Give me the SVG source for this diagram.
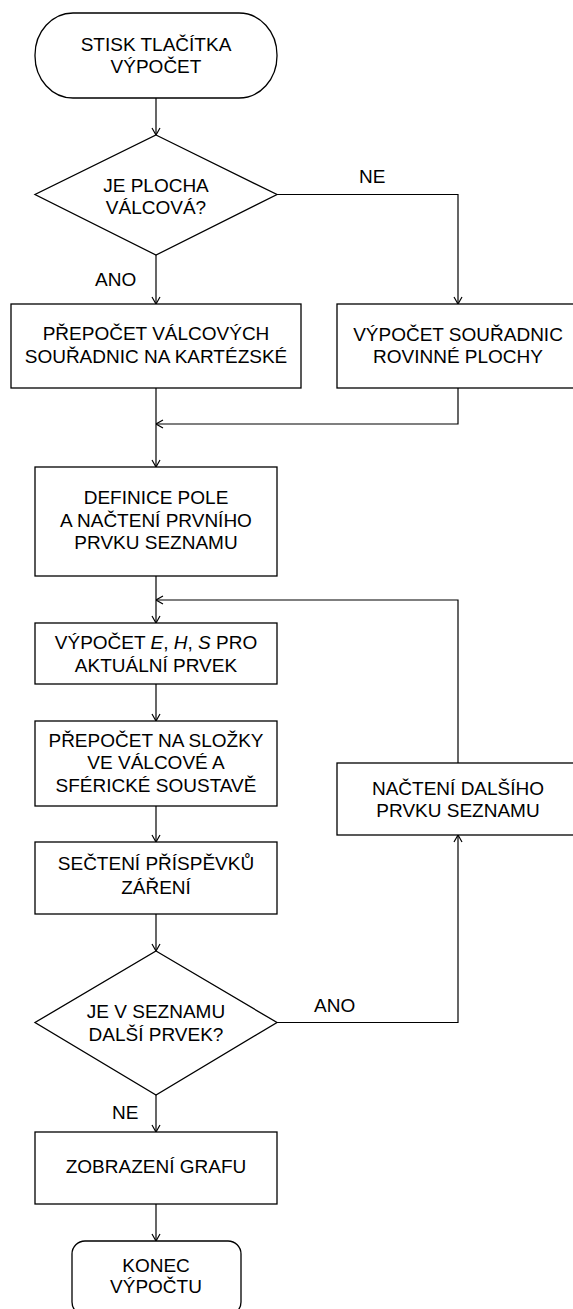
<svg xmlns="http://www.w3.org/2000/svg" width="573" height="1309" viewBox="0 0 573 1309">
<style>
.s{fill:#fff;stroke:#000;stroke-width:1.3}
.c{fill:none;stroke:#000;stroke-width:1.2}
text{font-family:"Liberation Sans",Arial,sans-serif;font-size:19px;fill:#000}
.m{text-anchor:middle}
</style>
<defs>
<marker id="a" viewBox="0 0 10 10" refX="10" refY="5" markerWidth="10" markerHeight="10" markerUnits="userSpaceOnUse" orient="auto">
<path d="M3,1 L10,5 L3,9" fill="none" stroke="#000" stroke-width="1.2"/>
</marker>
</defs>
<g id="connectors">
<path class="c" d="M156,98 V135" marker-end="url(#a)"/>
<path class="c" d="M156,255 V304" marker-end="url(#a)"/>
<path class="c" d="M277,194.5 H458 V304" marker-end="url(#a)"/>
<path class="c" d="M156,388 V467" marker-end="url(#a)"/>
<path class="c" d="M458,388 V424 H156" marker-end="url(#a)"/>
<path class="c" d="M156,576 V623" marker-end="url(#a)"/>
<path class="c" d="M458,763 V600 H156" marker-end="url(#a)"/>
<path class="c" d="M156,684 V721" marker-end="url(#a)"/>
<path class="c" d="M156,806 V842" marker-end="url(#a)"/>
<path class="c" d="M156,914 V951" marker-end="url(#a)"/>
<path class="c" d="M277,1022.5 H458 V835" marker-end="url(#a)"/>
<path class="c" d="M156,1095 V1132" marker-end="url(#a)"/>
<path class="c" d="M156,1204 V1241" marker-end="url(#a)"/>
<text x="95" y="286">ANO</text>
<text x="359" y="183">NE</text>
<text x="314" y="1012">ANO</text>
<text x="112" y="1119">NE</text>
</g>
<g id="start">
<rect class="s" x="35" y="13" width="242" height="85" rx="38" ry="42"/>
<text class="m" x="156" y="51">STISK TLAČÍTKA</text>
<text class="m" x="156" y="73">VÝPOČET</text>
</g>
<g id="dec1">
<polygon class="s" points="156,135 277,194.5 156,255 35,194.5"/>
<text class="m" x="156" y="192">JE PLOCHA</text>
<text class="m" x="156" y="214">VÁLCOVÁ?</text>
</g>
<g id="prepocet">
<rect class="s" x="11" y="304" width="290" height="84"/>
<text class="m" x="156" y="340">PŘEPOČET VÁLCOVÝCH</text>
<text class="m" x="156" y="363">SOUŘADNIC NA KARTÉZSKÉ</text>
</g>
<g id="rovinne">
<rect class="s" x="337" y="304" width="250" height="84"/>
<text class="m" x="458" y="341">VÝPOČET SOUŘADNIC</text>
<text class="m" x="458" y="363">ROVINNÉ PLOCHY</text>
</g>
<g id="definice">
<rect class="s" x="35" y="467" width="242" height="109"/>
<text class="m" x="156" y="504">DEFINICE POLE</text>
<text class="m" x="156" y="527">A NAČTENÍ PRVNÍHO</text>
<text class="m" x="156" y="549">PRVKU SEZNAMU</text>
</g>
<g id="vypocetEHS">
<rect class="s" x="35" y="623" width="242" height="61"/>
<text class="m" x="156" y="649">VÝPOČET <tspan font-style="italic">E</tspan>, <tspan font-style="italic">H</tspan>, <tspan font-style="italic">S</tspan> PRO</text>
<text class="m" x="156" y="672">AKTUÁLNÍ PRVEK</text>
</g>
<g id="slozky">
<rect class="s" x="35" y="721" width="242" height="85"/>
<text class="m" x="156" y="747">PŘEPOČET NA SLOŽKY</text>
<text class="m" x="156" y="769">VE VÁLCOVÉ A</text>
<text class="m" x="156" y="792">SFÉRICKÉ SOUSTAVĚ</text>
</g>
<g id="secteni">
<rect class="s" x="35" y="842" width="242" height="72"/>
<text class="m" x="156" y="870">SEČTENÍ PŘÍSPĚVKŮ</text>
<text class="m" x="156" y="894">ZÁŘENÍ</text>
</g>
<g id="dalsi">
<rect class="s" x="337" y="763" width="250" height="72"/>
<text class="m" x="458" y="795">NAČTENÍ DALŠÍHO</text>
<text class="m" x="458" y="817">PRVKU SEZNAMU</text>
</g>
<g id="dec2">
<polygon class="s" points="156,951 277,1022.5 156,1095 35,1022.5"/>
<text class="m" x="156" y="1018">JE V SEZNAMU</text>
<text class="m" x="156" y="1041">DALŠÍ PRVEK?</text>
</g>
<g id="graf">
<rect class="s" x="35" y="1132" width="242" height="72"/>
<text class="m" x="156" y="1173">ZOBRAZENÍ GRAFU</text>
</g>
<g id="end">
<rect class="s" x="72" y="1241" width="169" height="74" rx="13" ry="13"/>
<text class="m" x="156" y="1272">KONEC</text>
<text class="m" x="156" y="1293">VÝPOČTU</text>
</g>
</svg>
